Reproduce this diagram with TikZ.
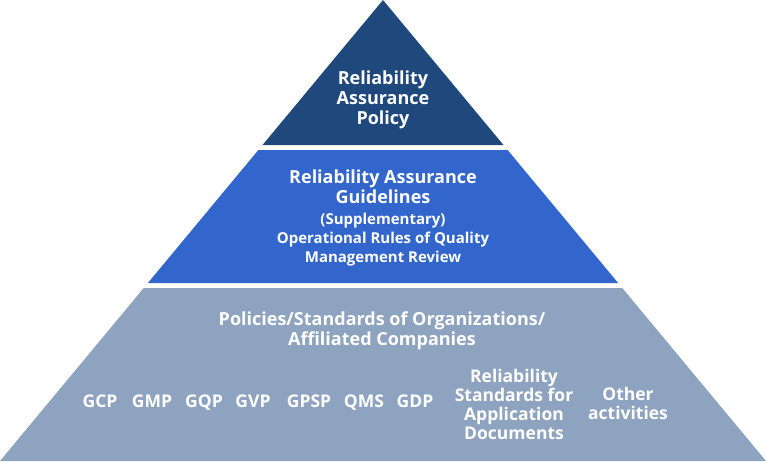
\documentclass[tikz,border=0pt]{standalone}
\usepackage{fontspec}
\setmainfont{Open Sans}
\definecolor{topblue}{RGB}{31,73,125}
\definecolor{midblue}{RGB}{51,102,204}
\definecolor{lowblue}{RGB}{141,163,191}
\begin{document}
\begin{tikzpicture}[x=1pt, y=-1pt,
    label/.style={text=white, font=\bfseries\fontsize{18}{20}\selectfont, align=center, inner sep=0pt},
    small/.style={label, font=\bfseries\fontsize{15}{19}\selectfont},
    item/.style={label, font=\bfseries\fontsize{17.5}{19}\selectfont}]
    \useasboundingbox (0,0) rectangle (766,461);
    % pyramid: apex (383,0), slope 383/461
    \def\sl{0.8308}

    % top: policy
    \fill[topblue] (383,0) -- ({383-\sl*145},145) -- ({383+\sl*145},145) -- cycle;
    \node[label] (policy) at (383,100) {Reliability\\Assurance\\Policy};

    % middle: guidelines
    \fill[midblue] ({383-\sl*150},150) -- ({383+\sl*150},150)
        -- ({383+\sl*283},283) -- ({383-\sl*283},283) -- cycle;
    \node[label] (guide) at (383,187) {Reliability Assurance\\Guidelines};
    \node[small] (rules) at (383,240) {(Supplementary)\\Operational Rules of Quality\\Management Review};

    % bottom: organizations
    \fill[lowblue] ({383-\sl*288},288) -- ({383+\sl*288},288)
        -- (766,461) -- (0,461) -- cycle;
    \node[label] (orgs) at (382,331) {Policies/Standards of Organizations/\\Affiliated Companies};

    % standards row (baseline aligned)
    \node[item, anchor=base] (gcp)  at (100,407) {GCP};
    \node[item, anchor=base] (gmp)  at (152,407) {GMP};
    \node[item, anchor=base] (gqp)  at (204,407) {GQP};
    \node[item, anchor=base] (gvp)  at (253,407) {GVP};
    \node[item, anchor=base] (gpsp) at (309,407) {GPSP};
    \node[item, anchor=base] (qms)  at (364,407) {QMS};
    \node[item, anchor=base] (gdp)  at (415,407) {GDP};
    \node[item] (docs) at (514,404) {Reliability\\Standards for\\Application\\Documents};
    \node[item] (other) at (628,403) {Other\\activities};
\end{tikzpicture}
\end{document}
